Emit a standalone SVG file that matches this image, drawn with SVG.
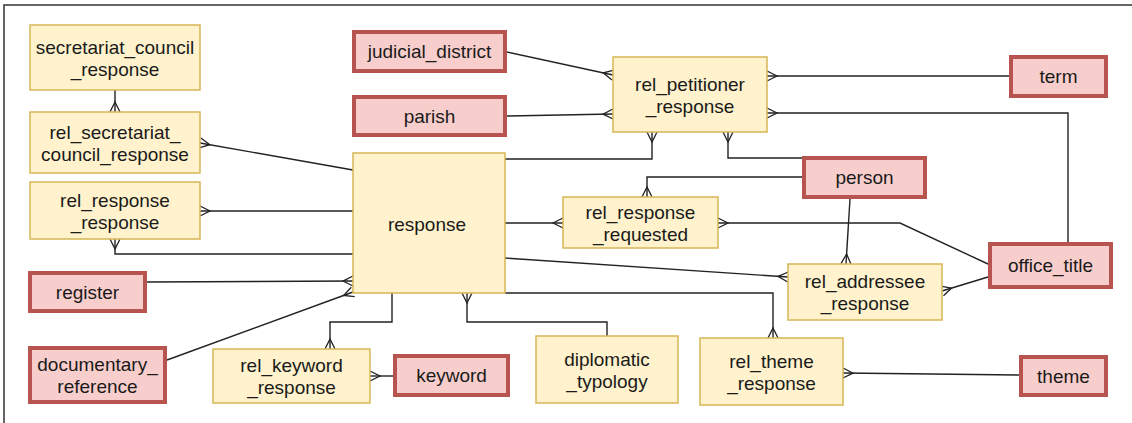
<svg xmlns="http://www.w3.org/2000/svg" width="1132" height="423" viewBox="0 0 1132 423">
<style>
.bg{fill:#ffffff}
.frame{fill:none;stroke:#333;stroke-width:1.5}
.rel rect{fill:#fff2cc;stroke:#d6b656;stroke-width:1.5}
.ent rect{fill:#f8cecc;stroke:#b85450;stroke-width:4}
text{font-family:"Liberation Sans",Arial,sans-serif;font-size:19px;fill:#1a1a1a;text-anchor:middle}
#connectors path{fill:none;stroke:#222;stroke-width:1.4;marker-end:url(#cf)}
</style>
<defs>
<marker id="cf" markerUnits="userSpaceOnUse" markerWidth="14" markerHeight="14" viewBox="-12 -7 14 14" refX="0" refY="0" orient="auto">
<path d="M0,-5 L-10,0 L0,5" fill="none" stroke="#222" stroke-width="1.3"/>
</marker>
</defs>
<rect class="bg" x="0" y="0" width="1132" height="423"/>
<path class="frame" d="M4,423 L4,5 L1132,5"/>

<g id="connectors">
<path d="M115,90 L115,112"/>
<path d="M353,170 L200,143"/>
<path d="M353,211 L200,211"/>
<path d="M353,254 L115,254 L115,239"/>
<path d="M147,282 L353,281"/>
<path d="M167,360 L353,292"/>
<path d="M392,293 L392,322 L330,322 L330,349"/>
<path d="M393,376 L370,376"/>
<path d="M607,336 L607,322 L467,322 L467,293"/>
<path d="M505,293 L773,293 L773,338"/>
<path d="M1019,375 L843,373"/>
<path d="M505,258 L788,277"/>
<path d="M988,277 L942,291"/>
<path d="M850,199 L846,264"/>
<path d="M988,264 L900,223 L718,223"/>
<path d="M505,223 L563,223"/>
<path d="M802,177 L647,177 L647,197"/>
<path d="M802,158 L728,158 L728,132"/>
<path d="M505,159 L652,159 L652,132"/>
<path d="M1068,242 L1068,113 L767,113"/>
<path d="M1009,76 L767,76"/>
<path d="M507,116 L613,114"/>
<path d="M507,52 L613,75"/>
</g>

<g id="secretariat_council_response" class="rel"><rect x="30" y="25" width="170" height="65"/><text x="115" y="53.5">secretariat_council</text><text x="115" y="75.5">_response</text></g>
<g id="rel_secretariat_council_response" class="rel"><rect x="30" y="112" width="170" height="61"/><text x="115" y="138.5">rel_secretariat_</text><text x="115" y="160.5">council_response</text></g>
<g id="rel_response_response" class="rel"><rect x="30" y="182" width="170" height="57"/><text x="115" y="206.5">rel_response</text><text x="115" y="228.5">_response</text></g>
<g id="register" class="ent"><rect x="30" y="273" width="115" height="38"/><text x="87.5" y="299">register</text></g>
<g id="documentary_reference" class="ent"><rect x="30" y="348" width="135" height="54"/><text x="97.5" y="371">documentary_</text><text x="97.5" y="393">reference</text></g>
<g id="rel_keyword_response" class="rel"><rect x="213" y="349" width="157" height="54"/><text x="291.5" y="372">rel_keyword</text><text x="291.5" y="394">_response</text></g>
<g id="keyword" class="ent"><rect x="395" y="356" width="113" height="39"/><text x="451.5" y="382">keyword</text></g>
<g id="response" class="rel"><rect x="353" y="153" width="152" height="140"/><text x="427" y="231">response</text></g>
<g id="diplomatic_typology" class="rel"><rect x="536" y="336" width="142" height="67"/><text x="607" y="365.5">diplomatic</text><text x="607" y="387.5">_typology</text></g>
<g id="rel_theme_response" class="rel"><rect x="700" y="338" width="143" height="67"/><text x="771.5" y="367.5">rel_theme</text><text x="771.5" y="389.5">_response</text></g>
<g id="theme" class="ent"><rect x="1021" y="357" width="85" height="38"/><text x="1063.5" y="383">theme</text></g>
<g id="judicial_district" class="ent"><rect x="354" y="32" width="151" height="39"/><text x="429.5" y="58">judicial_district</text></g>
<g id="parish" class="ent"><rect x="354" y="97" width="151" height="38"/><text x="429.5" y="123">parish</text></g>
<g id="rel_petitioner_response" class="rel"><rect x="613" y="57" width="154" height="75"/><text x="690" y="90.5">rel_petitioner</text><text x="690" y="112.5">_response</text></g>
<g id="term" class="ent"><rect x="1011" y="57" width="95" height="39"/><text x="1058.5" y="83">term</text></g>
<g id="person" class="ent"><rect x="804" y="158" width="121" height="39"/><text x="864.5" y="184">person</text></g>
<g id="rel_response_requested" class="rel"><rect x="563" y="197" width="155" height="51"/><text x="640.5" y="218.5">rel_response</text><text x="640.5" y="240.5">_requested</text></g>
<g id="rel_addressee_response" class="rel"><rect x="788" y="264" width="154" height="56"/><text x="865" y="288">rel_addressee</text><text x="865" y="310">_response</text></g>
<g id="office_title" class="ent"><rect x="990" y="244" width="121" height="43"/><text x="1050.5" y="272">office_title</text></g>
</svg>
